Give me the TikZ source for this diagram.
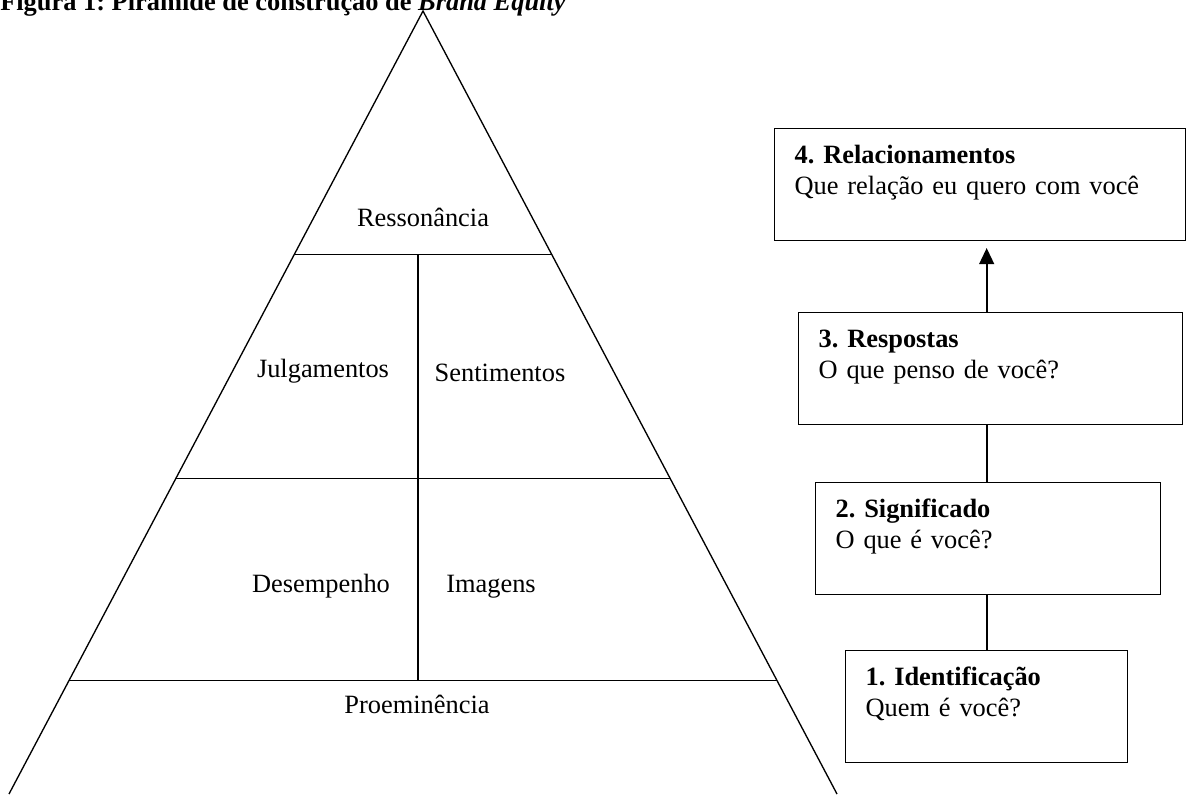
\documentclass[tikz,border=0pt]{standalone}
\usepackage{fontspec}
\setmainfont{Liberation Serif}
\usetikzlibrary{arrows.meta, positioning, calc}
\frenchspacing

\begin{document}
\begin{tikzpicture}[
  x=0.75pt, y=-0.75pt,
  every node/.style={font=\fontsize{19.8}{23.3}\selectfont},
  tier/.style={anchor=base, inner sep=0pt},
  levelbox/.style={draw, line width=1pt, anchor=north west, align=left, inner xsep=15pt, inner ysep=0pt, text height=26.25pt, text depth=57.75pt, text width=#1},
  link/.style={line width=1.5pt},
  edge/.style={line width=1pt}
]
  \useasboundingbox (0,0) rectangle (1187,794);
  \clip (0,0) rectangle (1187,794);
  \node[anchor=base west, inner sep=0pt, font=\bfseries\fontsize{19.8}{23.3}\selectfont] (title) at (0,10) {Figura 1: Pirâmide de construção de \textit{Brand Equity}};

  \coordinate (apex) at (423,11);
  \coordinate (bl) at (9,794);
  \coordinate (br) at (837,794);
  \draw[edge] (bl) -- (apex) -- (br);
  \foreach \t in {0.311, 0.597, 0.855}
    \draw[edge] ($(apex)!\t!(bl)$) -- ($(apex)!\t!(br)$);
  \draw[edge] (418,254) -- (418,680);

  \node[tier] (res) at (423,226) {Ressonância};
  \node[tier] (julg) at (323,377) {Julgamentos};
  \node[tier] (sent) at (500,381) {Sentimentos};
  \node[tier] (desemp) at (321,592) {Desempenho};
  \node[tier] (imag) at (491,592) {Imagens};
  \node[tier] (proem) at (417,713) {Proeminência};

  \node[levelbox=278.25pt] (rel) at (774,128) {\textbf{4. Relacionamentos}\\Que relação eu quero com você};
  \node[levelbox=258pt] (resp) at (798,312) {\textbf{3. Respostas}\\O que penso de você?};
  \node[levelbox=228.75pt] (sig) at (815,482) {\textbf{2. Significado}\\O que é você?};
  \node[levelbox=181.5pt] (ident) at (845,650) {\textbf{1. Identificação}\\Quem é você?};

  \draw[link] (ident.north) -- (ident.north |- sig.south);
  \draw[link] (ident.north |- sig.north) -- (ident.north |- resp.south);
  \draw[link, shorten >=5pt, -{Triangle[length=12pt, width=11pt]}] (ident.north |- resp.north) -- (ident.north |- rel.south);
\end{tikzpicture}
\end{document}
